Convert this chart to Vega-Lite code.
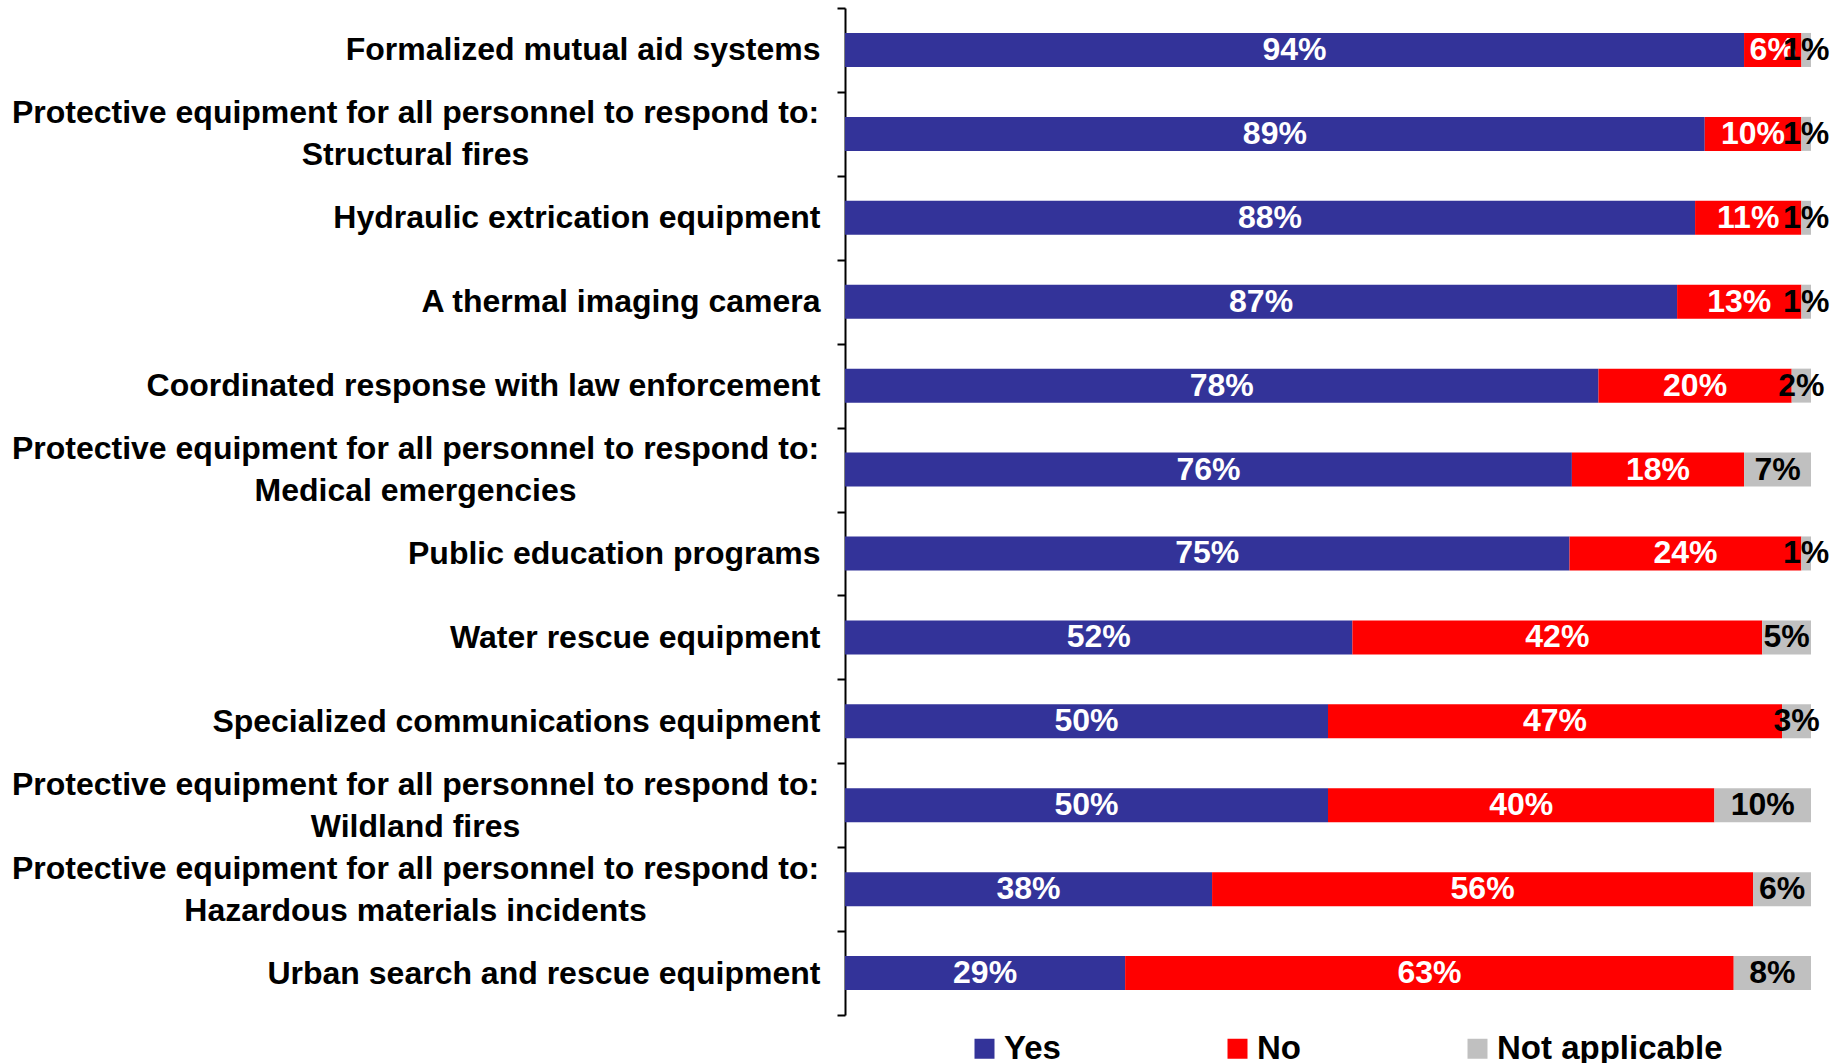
{
  "$schema": "https://vega.github.io/schema/vega-lite/v6.json",
  "autosize": {"type": "none"},
  "width": 966,
  "height": 1007,
  "padding": {"left": 845, "top": 8, "right": 25, "bottom": 48},
  "background": "white",
  "config": {"view": {"stroke": null}, "font": "Liberation Sans"},
  "data": {"values": [
    {"item": "Formalized mutual aid systems", "r": "Yes", "v": 0.94},
    {"item": "Formalized mutual aid systems", "r": "No", "v": 0.06},
    {"item": "Formalized mutual aid systems", "r": "Not applicable", "v": 0.01},
    {"item": "Protective equipment for all personnel to respond to:|Structural fires", "r": "Yes", "v": 0.89},
    {"item": "Protective equipment for all personnel to respond to:|Structural fires", "r": "No", "v": 0.10},
    {"item": "Protective equipment for all personnel to respond to:|Structural fires", "r": "Not applicable", "v": 0.01},
    {"item": "Hydraulic extrication equipment", "r": "Yes", "v": 0.88},
    {"item": "Hydraulic extrication equipment", "r": "No", "v": 0.11},
    {"item": "Hydraulic extrication equipment", "r": "Not applicable", "v": 0.01},
    {"item": "A thermal imaging camera", "r": "Yes", "v": 0.87},
    {"item": "A thermal imaging camera", "r": "No", "v": 0.13},
    {"item": "A thermal imaging camera", "r": "Not applicable", "v": 0.01},
    {"item": "Coordinated response with law enforcement", "r": "Yes", "v": 0.78},
    {"item": "Coordinated response with law enforcement", "r": "No", "v": 0.20},
    {"item": "Coordinated response with law enforcement", "r": "Not applicable", "v": 0.02},
    {"item": "Protective equipment for all personnel to respond to:|Medical emergencies", "r": "Yes", "v": 0.76},
    {"item": "Protective equipment for all personnel to respond to:|Medical emergencies", "r": "No", "v": 0.18},
    {"item": "Protective equipment for all personnel to respond to:|Medical emergencies", "r": "Not applicable", "v": 0.07},
    {"item": "Public education programs", "r": "Yes", "v": 0.75},
    {"item": "Public education programs", "r": "No", "v": 0.24},
    {"item": "Public education programs", "r": "Not applicable", "v": 0.01},
    {"item": "Water rescue equipment", "r": "Yes", "v": 0.52},
    {"item": "Water rescue equipment", "r": "No", "v": 0.42},
    {"item": "Water rescue equipment", "r": "Not applicable", "v": 0.05},
    {"item": "Specialized communications equipment", "r": "Yes", "v": 0.50},
    {"item": "Specialized communications equipment", "r": "No", "v": 0.47},
    {"item": "Specialized communications equipment", "r": "Not applicable", "v": 0.03},
    {"item": "Protective equipment for all personnel to respond to:|Wildland fires", "r": "Yes", "v": 0.50},
    {"item": "Protective equipment for all personnel to respond to:|Wildland fires", "r": "No", "v": 0.40},
    {"item": "Protective equipment for all personnel to respond to:|Wildland fires", "r": "Not applicable", "v": 0.10},
    {"item": "Protective equipment for all personnel to respond to:|Hazardous materials incidents", "r": "Yes", "v": 0.38},
    {"item": "Protective equipment for all personnel to respond to:|Hazardous materials incidents", "r": "No", "v": 0.56},
    {"item": "Protective equipment for all personnel to respond to:|Hazardous materials incidents", "r": "Not applicable", "v": 0.06},
    {"item": "Urban search and rescue equipment", "r": "Yes", "v": 0.29},
    {"item": "Urban search and rescue equipment", "r": "No", "v": 0.63},
    {"item": "Urban search and rescue equipment", "r": "Not applicable", "v": 0.08}
  ]},
  "transform": [
    {"stack": "v", "groupby": ["item"], "offset": "normalize", "as": ["x0", "x1"]},
    {"calculate": "(datum.x0 + datum.x1) / 2", "as": "xm"}
  ],
  "encoding": {
    "y": {
      "field": "item", "type": "nominal", "sort": null, "title": null,
      "scale": {"paddingInner": 0, "paddingOuter": 0},
      "axis": {
        "labelExpr": "split(datum.label, '|')",
        "labelFont": "Liberation Sans", "labelFontWeight": "bold", "labelFontSize": 32,
        "labelColor": "black", "labelLineHeight": 42, "labelLimit": 0,
        "labelAlign": {"condition": {"test": "indexof('' + datum.value, '|') >= 0", "value": "center"}, "value": "right"},
        "labelPadding": {"condition": {"test": "indexof('' + datum.value, '|') >= 0", "value": 422}, "value": 17},
        "labelOffset": {"condition": {"test": "indexof('' + datum.value, '|') >= 0", "value": -21}, "value": 0},
        "domainColor": "black", "domainWidth": 2, "tickColor": "black", "tickWidth": 2,
        "tickSize": 8, "tickBand": "extent", "grid": false
      }
    }
  },
  "layer": [
    {
      "mark": {"type": "bar", "size": 34},
      "encoding": {
        "x": {"field": "x0", "type": "quantitative", "axis": null, "scale": {"domain": [0, 1], "nice": false, "zero": true}},
        "x2": {"field": "x1"},
        "color": {
          "field": "r", "type": "nominal",
          "scale": {"domain": ["Yes", "No", "Not applicable"], "range": ["#333399", "#FF0000", "#C0C0C0"]},
          "legend": {
            "title": null, "orient": "none", "direction": "horizontal",
            "legendX": 123, "legendY": 1024,
            "symbolType": "square", "symbolSize": 400, "symbolStrokeWidth": 0,
            "labelFont": "Liberation Sans", "labelFontWeight": "bold", "labelFontSize": 33,
            "labelColor": "black", "labelOffset": 3, "columnPadding": 160, "labelLimit": 0
          }
        }
      }
    },
    {
      "mark": {"type": "text", "font": "Liberation Sans", "fontWeight": "bold", "fontSize": 32, "baseline": "middle", "align": "center"},
      "encoding": {
        "x": {"field": "xm", "type": "quantitative"},
        "text": {"field": "v", "type": "quantitative", "format": ".0%"},
        "color": {"condition": {"test": "datum.r === 'Not applicable'", "value": "black"}, "value": "white"}
      }
    }
  ]
}
